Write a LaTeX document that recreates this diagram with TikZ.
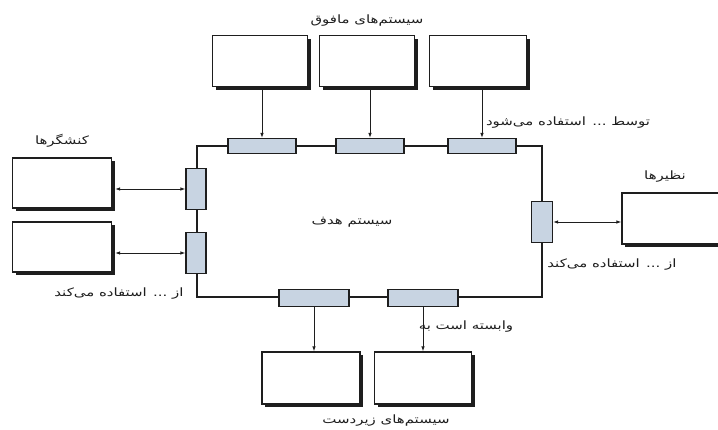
\documentclass[tikz,border=0pt]{standalone}
\usepackage{fontspec}
\newfontfamily\farsi[Script=Arabic, FakeStretch=1.3]{DejaVu Sans}
\TeXXeTstate=1
\usetikzlibrary{shadows,arrows.meta}
\definecolor{portblue}{RGB}{200,212,226}
\definecolor{ink}{RGB}{30,30,30}
\newcommand{\fa}[1]{\beginR #1\endR}

\tikzset{
  sysbox/.style={draw=ink, line width=1.2pt, fill=white, minimum width=95pt, minimum height=51pt,
    drop shadow={shadow xshift=3pt, shadow yshift=-3pt, fill=ink, opacity=1}},
  hport/.style={draw=ink, line width=1.1pt, fill=portblue, minimum width=68pt, minimum height=15pt, inner sep=0pt},
  vport/.style={draw=ink, line width=1.1pt, fill=portblue, minimum width=20pt, minimum height=41pt, inner sep=0pt},
  link/.style={draw=ink, line width=0.9pt, -{Latex[length=5pt,width=3.5pt]}},
  both/.style={draw=ink, line width=0.9pt, {Latex[length=5pt,width=3.5pt]}-{Latex[length=5pt,width=3.5pt]}},
  lbl/.style={text=ink, font=\farsi\fontsize{11.5}{13}\selectfont, inner sep=1pt}
}

\begin{document}
\begin{tikzpicture}[x=1pt,y=-1pt]
\useasboundingbox (0,0) rectangle (718,429);
\clip (0,0) rectangle (718,429);

% target system
\node[draw=ink, line width=2.2pt, minimum width=345pt, minimum height=151pt] (target) at (369.5,221.5) {};
\node[lbl] (targetlbl) at (352,222) {\fa{سیستم هدف}};

% interfaces on the border
\node[hport] (tp1) at (262,146) {};
\node[hport] (tp2) at (370,146) {};
\node[hport] (tp3) at (482,146) {};
\node[vport] (lp1) at (196,189) {};
\node[vport] (lp2) at (196,253) {};
\node[vport, minimum width=21pt] (rp) at (542,222) {};
\node[hport, minimum width=70pt, minimum height=17pt] (bp1) at (314,298) {};
\node[hport, minimum width=70pt, minimum height=17pt] (bp2) at (423,298) {};

% superior systems
\node[sysbox] (sup1) at (260,61) {};
\node[sysbox] (sup2) at (367,61) {};
\node[sysbox, minimum width=97pt] (sup3) at (478,61) {};
\node[lbl] (suplbl) at (367,21) {\fa{سیستم‌های مافوق}};
\node[lbl] (usedby) at (568,123) {\fa{توسط ... استفاده می‌شود}};

% actors
\node[sysbox, minimum width=99pt, minimum height=50pt] (act1) at (62,183) {};
\node[sysbox, minimum width=99pt, minimum height=50pt] (act2) at (62,247) {};
\node[lbl] (actlbl) at (62,141) {\fa{کنشگرها}};
\node[lbl] (useleft) at (119,294) {\fa{از ... استفاده می‌کند}};

% peers
\node[sysbox, minimum width=100pt] (peer) at (672,218.5) {};
\node[lbl] (peerlbl) at (665,177) {\fa{نظیرها}};
\node[lbl] (useright) at (612,265) {\fa{از ... استفاده می‌کند}};

% subordinate systems
\node[sysbox, minimum width=98pt, minimum height=52pt] (sub1) at (311,378) {};
\node[sysbox, minimum width=97pt, minimum height=52pt] (sub2) at (423,378) {};
\node[lbl] (dependson) at (466,327) {\fa{وابسته است به}};
\node[lbl] (sublbl) at (386,421) {\fa{سیستم‌های زیردست}};

% connectors
\draw[link] (tp1 |- sup1.south) -- (tp1.north);
\draw[link] (tp2 |- sup2.south) -- (tp2.north);
\draw[link] (tp3 |- sup3.south) -- (tp3.north);
\draw[both, shorten <=3pt] (lp1 -| act1.east) -- (lp1.west);
\draw[both, shorten <=3pt] (lp2 -| act2.east) -- (lp2.west);
\draw[both] (rp.east) -- (rp -| peer.west);
\draw[link] (bp1.south) -- (bp1 |- sub1.north);
\draw[link] (bp2.south) -- (bp2 |- sub2.north);
\end{tikzpicture}
\end{document}
